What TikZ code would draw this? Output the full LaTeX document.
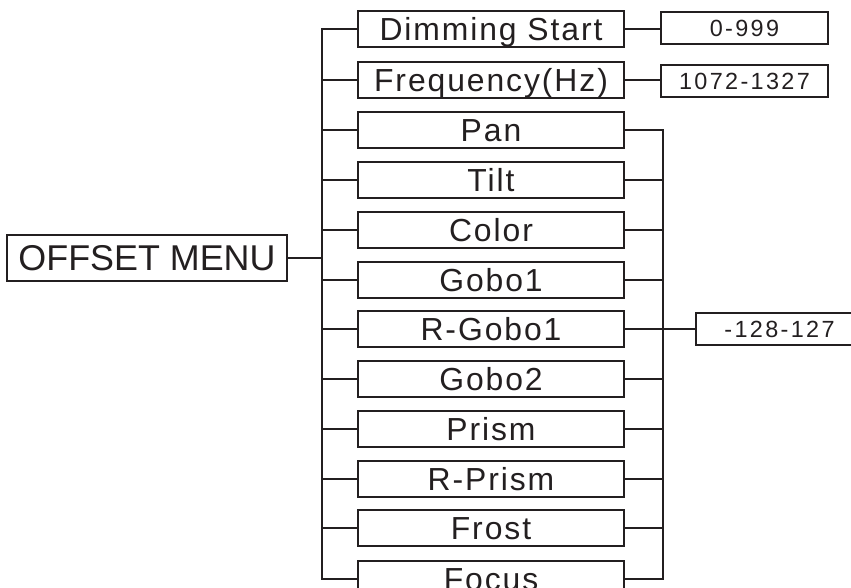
\documentclass[tikz,border=0pt]{standalone}
\usepackage{fontspec}
\setmainfont{Liberation Sans}
\newfontfamily\spaced{Liberation Sans}[LetterSpace=6]
\newfontfamily\wide{Liberation Sans}[LetterSpace=10]
\usepackage{xcolor}
\usepackage{tikz}
\usetikzlibrary{positioning}
\usetikzlibrary{calc}

\definecolor{ink}{HTML}{231F20}

\begin{document}
\begin{tikzpicture}[x=1bp,y=-1bp]
          \useasboundingbox (0,0) rectangle (851,588);
          \clip (0,0) rectangle (851,588);
          \node[draw=ink,text=ink,line width=1.6bp,minimum width=280bp,minimum height=46bp,inner sep=0pt,
                text height=25.8bp,text depth=0pt,font=\fontsize{36}{36}\selectfont] (menu) at (147,258) {OFFSET MENU};
          \begin{scope}[every node/.style={draw=ink,text=ink,line width=1.6bp,minimum width=266bp,minimum height=36bp,
                inner sep=0pt,text height=22.9bp,text depth=0pt,font=\spaced\fontsize{32}{32}\selectfont}]
            \node (dim) at (491,29) {Dimming Start};
            \node (freq) at (491,80) {Frequency(Hz)};
            \node (pan) at (491,130) {Pan};
            \node (tilt) at (491,180) {Tilt};
            \node (color) at (491,230) {Color};
            \node (gobo1) at (491,280) {Gobo1};
            \node (rgobo1) at (491,329) {R-Gobo1};
            \node (gobo2) at (491,379) {Gobo2};
            \node (prism) at (491,429) {Prism};
            \node (rprism) at (491,479) {R-Prism};
            \node (frost) at (491,528) {Frost};
            \node (focus) at (491,579) {Focus};
          \end{scope}
          \begin{scope}[every node/.style={draw=ink,text=ink,line width=1.6bp,minimum width=167bp,minimum height=32bp,
                inner sep=0pt,text height=16.8bp,text depth=0pt,font=\wide\fontsize{23.5}{23.5}\selectfont}]
            \node (dimval) at (744.5,28) {0-999};
            \node (freqval) at (744.5,81) {1072-1327};
            \node (offval) at (779.5,329) {-128-127};
          \end{scope}
          \coordinate (trunk) at (322,0);
          \coordinate (rtrunk) at (663,0);
          \begin{scope}[every edge/.style={draw=ink,line width=1.6bp,line cap=rect}]
            \path (menu.east) edge (menu.east -| trunk);
            \path (dim.west -| trunk) edge (focus.west -| trunk);
            \path (dim.west) edge (dim.west -| trunk);
            \path (freq.west) edge (freq.west -| trunk);
            \path (pan.west) edge (pan.west -| trunk);
            \path (tilt.west) edge (tilt.west -| trunk);
            \path (color.west) edge (color.west -| trunk);
            \path (gobo1.west) edge (gobo1.west -| trunk);
            \path (rgobo1.west) edge (rgobo1.west -| trunk);
            \path (gobo2.west) edge (gobo2.west -| trunk);
            \path (prism.west) edge (prism.west -| trunk);
            \path (rprism.west) edge (rprism.west -| trunk);
            \path (frost.west) edge (frost.west -| trunk);
            \path (focus.west) edge (focus.west -| trunk);
            \path (dim.east) edge (dim.east -| dimval.west);
            \path (freq.east) edge (freq.east -| freqval.west);
            \path (pan.east -| rtrunk) edge (focus.east -| rtrunk);
            \path (pan.east) edge (pan.east -| rtrunk);
            \path (tilt.east) edge (tilt.east -| rtrunk);
            \path (color.east) edge (color.east -| rtrunk);
            \path (gobo1.east) edge (gobo1.east -| rtrunk);
            \path (rgobo1.east) edge (rgobo1.east -| rtrunk);
            \path (gobo2.east) edge (gobo2.east -| rtrunk);
            \path (prism.east) edge (prism.east -| rtrunk);
            \path (rprism.east) edge (rprism.east -| rtrunk);
            \path (frost.east) edge (frost.east -| rtrunk);
            \path (focus.east) edge (focus.east -| rtrunk);
            \path (offval.west -| rtrunk) edge (offval.west);
          \end{scope}
        \end{tikzpicture}
\end{document}
